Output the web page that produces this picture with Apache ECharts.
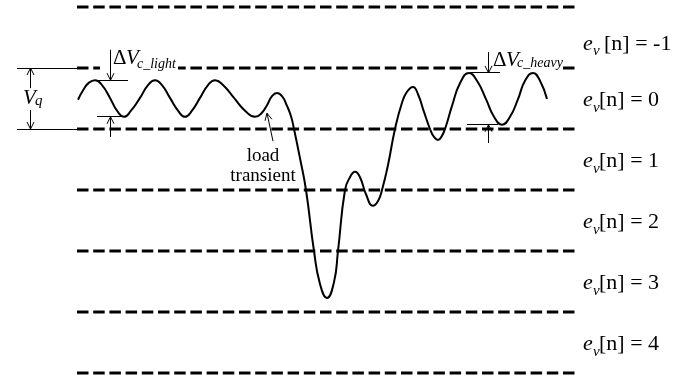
<!DOCTYPE html>
<html>
<head>
<meta charset="utf-8">
<script src="https://cdn.jsdelivr.net/npm/echarts@6/dist/echarts.min.js"></script>
<style>
  html, body { margin: 0; padding: 0; background: #fff; }
  #chart { width: 695px; height: 379px; }
</style>
</head>
<body>
<div id="chart"></div>
<script>
// Quantiser thresholds, in units of one bin (v = 0 is the top of bin e_v[n] = 0)
const thresholdLevels = [1, 0, -1, -2, -3, -4, -5];
const thresholdSpan = [77, 576];

// Bin names and the level at the middle of each bin
const binNames = ['-1', '0', '1', '2', '3', '4'];
const binCentres = [0.5, -0.5, -1.5, -2.5, -3.5, -4.5];

// Output voltage before and after the load step (time, voltage in bin units)
const waveTime = [78, 84, 89, 95, 102, 110, 117, 124, 131, 140, 148, 155, 162, 170, 178,
                  185, 192, 200, 208, 215, 223, 234, 245, 255, 261, 267, 272, 277, 282, 287,
                  291, 294, 300, 306, 314, 320, 327, 334, 338, 345, 350, 355, 360, 366, 373,
                  378, 382, 388, 395, 402, 407, 413, 418, 424, 430, 434, 438, 442, 446, 452,
                  460, 469, 477, 486, 494, 502, 510, 518, 525, 533, 540, 547];
const waveVolt = [-0.52, -0.34, -0.24, -0.20, -0.28, -0.49, -0.70, -0.80, -0.70, -0.49, -0.28, -0.20, -0.28, -0.49, -0.70,
                  -0.80, -0.70, -0.49, -0.28, -0.20, -0.28, -0.49, -0.70, -0.80, -0.75, -0.61, -0.46, -0.41, -0.46, -0.62,
                  -0.79, -1.00, -1.48, -2.00, -3.00, -3.54, -3.77, -3.51, -3.00, -2.00, -1.79, -1.70, -1.79, -2.07, -2.26,
                  -2.18, -2.00, -1.59, -1.00, -0.57, -0.39, -0.31, -0.43, -0.72, -1.00, -1.13, -1.18, -1.11, -0.95, -0.62,
                  -0.25, -0.08, -0.21, -0.51, -0.80, -0.93, -0.80, -0.51, -0.21, -0.08, -0.21, -0.51];

// Ripple extremes (bin units) at light and heavy load
const lightRipple = [-0.20, -0.80];
const heavyRipple = [-0.08, -0.93];

const serif = '"Liberation Serif", "Times New Roman", serif';
const fontOf = (size, italic) => (italic ? 'italic ' : '') + size + 'px ' + serif;

// Thin reference lines: [xStart, xEnd, level]
const guideLines = [
  [17, 78, 0], [17, 78, -1],
  [95, 128, lightRipple[0]], [97, 123, lightRipple[1]],
  [470, 500, heavyRipple[0]], [467, 498, heavyRipple[1]]
];

// Arrows: [xFrom, vFrom, xTo, vTo]
const arrows = [
  [30, -0.33, 30, 0], [30, -0.69, 30, -1],
  [110, 0.30, 110, lightRipple[0]], [110, -1.13, 110, lightRipple[1]],
  [488, 0.26, 488, heavyRipple[0]], [488, -1.23, 488, heavyRipple[1]],
  [273, -1.20, 267, -0.74]
];

// Text blocks: anchor is the baseline start; runs = [text, size, italic, dx, dy]
const textBlocks = [
  { at: [113, 0.05], runs: [['\u0394', 21, false, 0, 0], ['V', 21, true, 13, 0], ['c_light', 14, true, 24, 4]],
    mask: [-13, 65, -3, 6] },
  { at: [493, 0.02], runs: [['\u0394', 21, false, 0, 0], ['V', 21, true, 13, 0], ['c_heavy', 14, true, 24, 1]],
    mask: [-12, 68, -3, 4] },
  { at: [23, -0.61], runs: [['V', 21, true, 0, 0], ['q', 15, true, 12, 1]] },
  { at: [263, -1.54], runs: [['load', 19, false, 0, 0]], center: true },
  { at: [263, -1.87], runs: [['transient', 19, false, 0, 0]], center: true }
];
binNames.forEach((name, i) => {
  const gap = name === '-1' ? 21 : 16;
  textBlocks.push({
    at: [583, binCentres[i]], shift: i === 0 ? 13.5 : 9,
    runs: [['e', 22, true, 0, 0], ['v', 15, true, 10, 5], ['[n] = ' + name, 22, false, gap, 0]]
  });
});

const chart = echarts.init(document.getElementById('chart'), null, { renderer: 'canvas' });

function crisp(v) { return Math.round(v - 0.5) + 0.5; }

chart.setOption({
  animation: false,
  backgroundColor: '#fff',
  grid: { left: 0, right: 0, top: 7, bottom: 6 },
  xAxis: { type: 'value', min: 0, max: 695, show: false },
  yAxis: { type: 'value', min: -5, max: 1, show: false },
  series: [
    {
      name: 'thresholds',
      type: 'custom',
      z: 1,
      silent: true,
      encode: { x: [0, 1], y: 2 },
      data: thresholdLevels.map(v => [thresholdSpan[0], thresholdSpan[1], v]),
      renderItem: (params, api) => {
        const a = api.coord([api.value(0), api.value(2)]);
        const b = api.coord([api.value(1), api.value(2)]);
        return {
          type: 'line',
          shape: { x1: a[0], y1: Math.round(a[1]), x2: b[0], y2: Math.round(b[1]) },
          style: { stroke: '#000', lineWidth: 3, lineDash: [11.5, 4.7], lineCap: 'butt' }
        };
      }
    },
    {
      name: 'text',
      type: 'custom',
      z: 2,
      silent: true,
      data: textBlocks.map((b, i) => [b.at[0], b.at[1], i]),
      renderItem: (params, api) => {
        const blk = textBlocks[api.value(2)];
        const p = api.coord([api.value(0), api.value(1)]);
        const baseY = p[1] + (blk.shift || 0);
        const children = [];
        if (blk.mask) {
          const m = blk.mask;
          children.push({
            type: 'rect',
            shape: { x: p[0] + m[0], y: baseY + m[2], width: m[1] - m[0], height: m[3] - m[2] },
            style: { fill: '#fff' }
          });
        }
        blk.runs.forEach(r => {
          const size = r[1];
          const align = blk.center ? 'center' : 'left';
          children.push({
            type: 'text',
            style: {
              text: r[0],
              x: p[0] + r[3],
              y: baseY + r[4] - 0.32 * size,
              font: fontOf(size, r[2]),
              fill: '#000',
              textFill: '#000',
              align: align, textAlign: align,
              verticalAlign: 'middle', textVerticalAlign: 'middle'
            }
          });
        });
        return { type: 'group', children };
      }
    },
    {
      name: 'voltage',
      type: 'line',
      z: 3,
      silent: true,
      smooth: 0.5,
      showSymbol: false,
      lineStyle: { color: '#000', width: 2 },
      data: waveTime.map((t, i) => [t, waveVolt[i]])
    },
    {
      name: 'guides',
      type: 'custom',
      z: 3,
      silent: true,
      encode: { x: [0, 1], y: 2 },
      data: guideLines,
      renderItem: (params, api) => {
        const a = api.coord([api.value(0), api.value(2)]);
        const b = api.coord([api.value(1), api.value(2)]);
        const y = crisp(a[1]);
        return {
          type: 'line',
          shape: { x1: a[0], y1: y, x2: b[0], y2: y },
          style: { stroke: '#000', lineWidth: 1 }
        };
      }
    },
    {
      name: 'arrows',
      type: 'custom',
      z: 3,
      silent: true,
      encode: { x: [0, 2], y: [1, 3] },
      data: arrows,
      renderItem: (params, api) => {
        const p = api.coord([api.value(0), api.value(1)]);
        const q = api.coord([api.value(2), api.value(3)]);
        if (p[0] === q[0]) { p[0] = q[0] = crisp(p[0]); }
        const dx = q[0] - p[0], dy = q[1] - p[1];
        const len = Math.hypot(dx, dy) || 1;
        const ux = dx / len, uy = dy / len;
        const L = 7, H = 3.5;
        const bx = q[0] - ux * L, by = q[1] - uy * L;
        return {
          type: 'group',
          children: [
            { type: 'line', shape: { x1: p[0], y1: p[1], x2: q[0], y2: q[1] },
              style: { stroke: '#000', lineWidth: 1 } },
            { type: 'polyline',
              shape: { points: [[bx - uy * H, by + ux * H], [q[0], q[1]], [bx + uy * H, by - ux * H]] },
              style: { stroke: '#000', fill: null, lineWidth: 1 } }
          ]
        };
      }
    }
  ]
});
</script>
</body>
</html>
